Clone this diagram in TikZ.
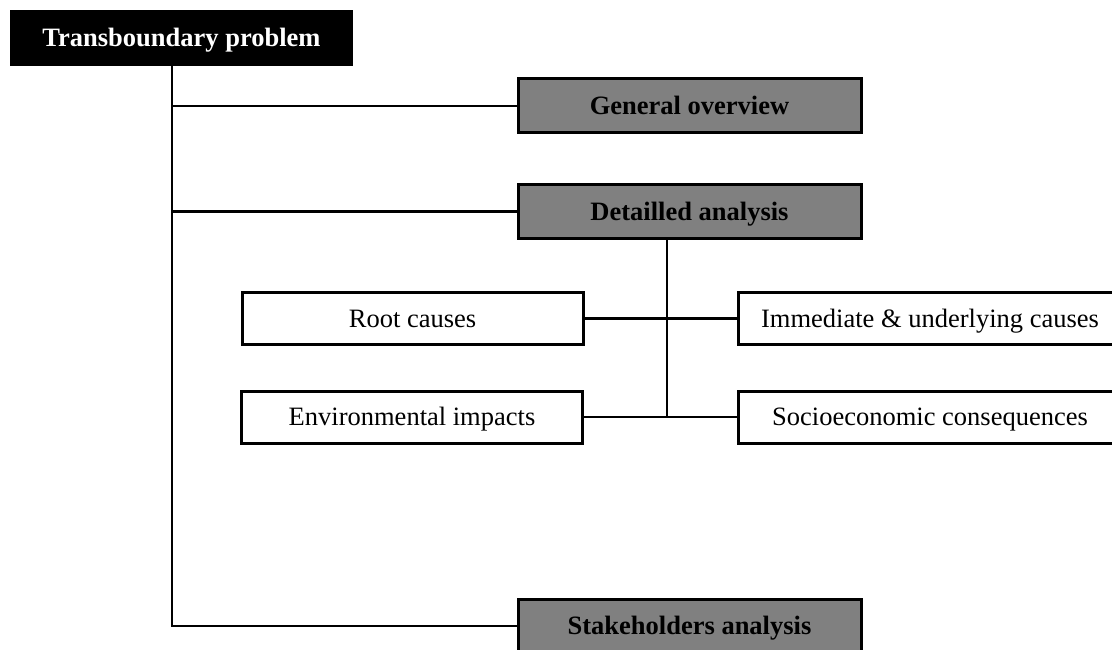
\documentclass[tikz,border=0pt]{standalone}
\usepackage{fontspec}
\setmainfont{Liberation Serif}
\definecolor{boxgrey}{HTML}{808080}
\begin{document}
\begin{tikzpicture}[x=1pt,y=-1pt,
  every node/.style={inner sep=0pt, text height=20pt, text depth=2.5pt, font=\fontsize{26.5}{30}\selectfont},
  titlebox/.style={rectangle, fill=black, text=white, font=\fontsize{26.5}{30}\selectfont\bfseries, minimum width=343pt, minimum height=56pt},
  greybox/.style={rectangle, draw=black, line width=3pt, fill=boxgrey, text=black, font=\fontsize{26.5}{30}\selectfont\bfseries, minimum width=343pt, minimum height=54pt},
  whitebox/.style={rectangle, draw=black, line width=3pt, fill=white, minimum height=52pt},
  link/.style={draw=black, line width=2.6pt}]
\useasboundingbox[fill=white] (0,0) rectangle (1112,650);
% nodes
\node[titlebox] (title) at (181.5,38) {Transboundary problem};
\node[greybox] (gen) at (689.5,106) {General overview};
\node[greybox] (det) at (689.5,211.5) {Detailled analysis};
\node[greybox] (stake) at (689.5,626) {Stakeholders analysis};
\node[whitebox, minimum width=341pt] (root) at (412.5,318.5) {Root causes};
\node[whitebox, minimum width=341pt] (env) at (412,417) {Environmental impacts};
\node[whitebox, minimum width=384pt] (imm) at (930,318.5) {Immediate \& underlying causes};
\node[whitebox, minimum width=384pt] (soc) at (930,417) {Socioeconomic consequences};
% connectors
\coordinate (t) at (172,626);
\coordinate (d) at (667,417);
\draw[link] (title.south -| t) -- (t) -- (stake.west);
\draw[link] (gen.west -| t) -- (gen.west);
\draw[link] (det.west -| t) -- (det.west);
\draw[link] (det.south -| d) -- (d);
\draw[link] (root.east) -- (imm.west);
\draw[link] (env.east) -- (soc.west);
\end{tikzpicture}
\end{document}
